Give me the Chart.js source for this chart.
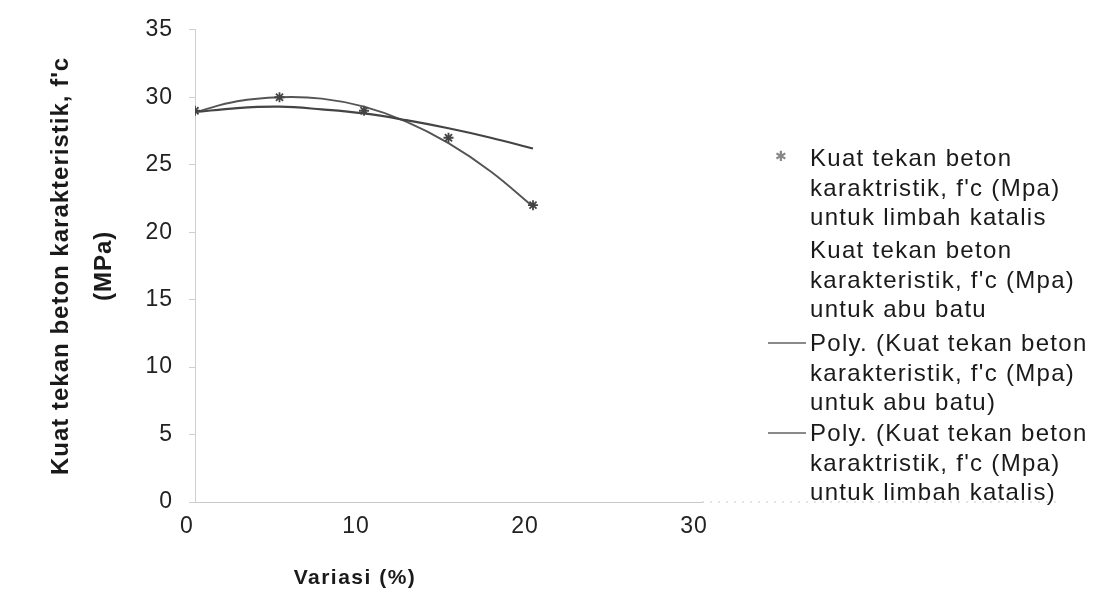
<!DOCTYPE html>
<html>
<head>
<meta charset="utf-8">
<script src="https://cdn.jsdelivr.net/npm/chart.js@4.4.1/dist/chart.umd.min.js"></script>
<style>
  body { margin: 0; background: #fff; font-family: "Liberation Sans", Arial, sans-serif; }
  #wrap { position: relative; width: 1097px; height: 608px; }
  .leg { position: absolute; left: 810px; font-size: 24px; line-height: 29.5px; letter-spacing: 1.3px; color: #1a1a1a; white-space: nowrap; }
  .sw { position: absolute; left: 768px; width: 38px; height: 0; border-top: 2px solid #8a8a8a; }
  .mk { position: absolute; left: 775px; top: 148px; font-size: 14px; color: #888; }
  #xt { position: absolute; left: 255px; width: 200px; top: 565px; text-align: center; font-weight: bold; font-size: 21px; letter-spacing: 1.5px; color: #1a1a1a; }
</style>
</head>
<body>
<div id="wrap">
  <canvas id="chart"></canvas>
  <div class="mk">✱</div>
  <div class="leg" style="top:143px">Kuat tekan beton<br>karaktristik, f'c (Mpa)<br>untuk limbah katalis</div>
  <div class="leg" style="top:235px">Kuat tekan beton<br>karakteristik, f'c (Mpa)<br>untuk abu batu</div>
  <div class="sw" style="top:342px"></div>
  <div class="leg" style="top:328px">Poly. (Kuat tekan beton<br>karakteristik, f'c (Mpa)<br>untuk abu batu)</div>
  <div class="sw" style="top:432px"></div>
  <div class="leg" style="top:418px">Poly. (Kuat tekan beton<br>karaktristik, f'c (Mpa)<br>untuk limbah katalis)</div>
  <div id="xt">Variasi (%)</div>
</div>
<script>
// variasi (%) of the tested mixes
const variasi = [0, 5, 10, 15, 20];
// measured strength, f'c (MPa)
const fcKatalis = [29, 30, 29, 27, 22];
const fcAbuBatu = [28.8, 29.3, 28.9, 27.6, 26.2];

// trendlines
const trendX = [0, 2.5, 5, 7.5, 10, 12.5, 15, 17.5, 20];
const trendAbuBatu = [28.9, 29.2, 29.3, 29.1, 28.8, 28.3, 27.7, 27.0, 26.2];
const trendKatalis = [28.9, 29.7, 30.0, 29.9, 29.3, 28.2, 26.6, 24.5, 21.9];

const yTitle = ["Kuat tekan beton karakteristik, f'c", "(MPa)"];

const toPts = (xs, ys) => xs.map((x, i) => ({ x: x, y: ys[i] }));

// slightly spaced lettering like the scanned original
const spacing = {
    id: 'spacing',
    beforeLayout(chart) { chart.ctx.letterSpacing = '1px'; },
    beforeDraw(chart) { chart.ctx.letterSpacing = '1px'; }
};

// the dotted baseline of the plot frame runs on under the legend
const baseline = {
    id: 'baseline',
    beforeDatasetsDraw(chart) {
        const ctx = chart.ctx;
        const y = chart.scales.y.getPixelForValue(0);
        ctx.save();
        ctx.strokeStyle = '#c8c8c8';
        ctx.lineWidth = 1;
        ctx.setLineDash([2, 6]);
        ctx.beginPath();
        ctx.moveTo(chart.chartArea.right, y);
        ctx.lineTo(chart.width - 35, y);
        ctx.stroke();
        ctx.restore();
    }
};

new Chart(document.getElementById('chart'), {
    type: 'scatter',
    data: {
        datasets: [
            {
                label: "Kuat tekan beton karaktristik, f'c (Mpa) untuk limbah katalis",
                data: toPts(variasi, fcKatalis),
                pointStyle: 'star',
                pointRadius: 5,
                borderColor: '#444',
                borderWidth: 1.8,
                showLine: false,
                order: 0
            },
            {
                label: "Kuat tekan beton karakteristik, f'c (Mpa) untuk abu batu",
                data: toPts(variasi, fcAbuBatu),
                pointRadius: 0,
                showLine: false,
                order: 1
            },
            {
                label: "Poly. (Kuat tekan beton karakteristik, f'c (Mpa) untuk abu batu)",
                data: toPts(trendX, trendAbuBatu),
                showLine: true,
                borderColor: '#444',
                borderWidth: 2.2,
                tension: 0.4,
                pointRadius: 0,
                order: 2
            },
            {
                label: "Poly. (Kuat tekan beton karaktristik, f'c (Mpa) untuk limbah katalis)",
                data: toPts(trendX, trendKatalis),
                showLine: true,
                borderColor: '#555',
                borderWidth: 1.9,
                tension: 0.4,
                pointRadius: 0,
                order: 3
            }
        ]
    },
    options: {
        responsive: true,
        maintainAspectRatio: false,
        animation: false,
        layout: { padding: { left: 0, top: 27, right: 395, bottom: 0 } },
        plugins: { legend: { display: false }, tooltip: { enabled: false } },
        scales: {
            x: {
                min: 0, max: 30,
                ticks: { stepSize: 10, color: '#222', padding: 3, labelOffset: -8, font: { size: 23, family: "'Liberation Sans', Arial" } },
                grid: { display: false },
                border: { color: '#c8c8c8', dash: [2, 6] },
                afterFit(scale) { scale.height = 106; }
            },
            y: {
                min: 0, max: 35,
                ticks: { stepSize: 5, color: '#222', padding: 16, font: { size: 23, family: "'Liberation Sans', Arial" } },
                grid: { drawOnChartArea: false, tickLength: 6, color: '#cfcfcf' },
                border: { color: '#cfcfcf', dash: [2, 6] },
                title: {
                    display: true,
                    text: yTitle,
                    color: '#1a1a1a',
                    padding: { top: 40, bottom: 0 },
                    font: { size: 24, weight: 'bold', family: "'Liberation Sans', Arial", lineHeight: 1.8 }
                },
                afterFit(scale) { scale.width = 195; }
            }
        }
    },
    plugins: [spacing, baseline]
});
</script>
</body>
</html>
